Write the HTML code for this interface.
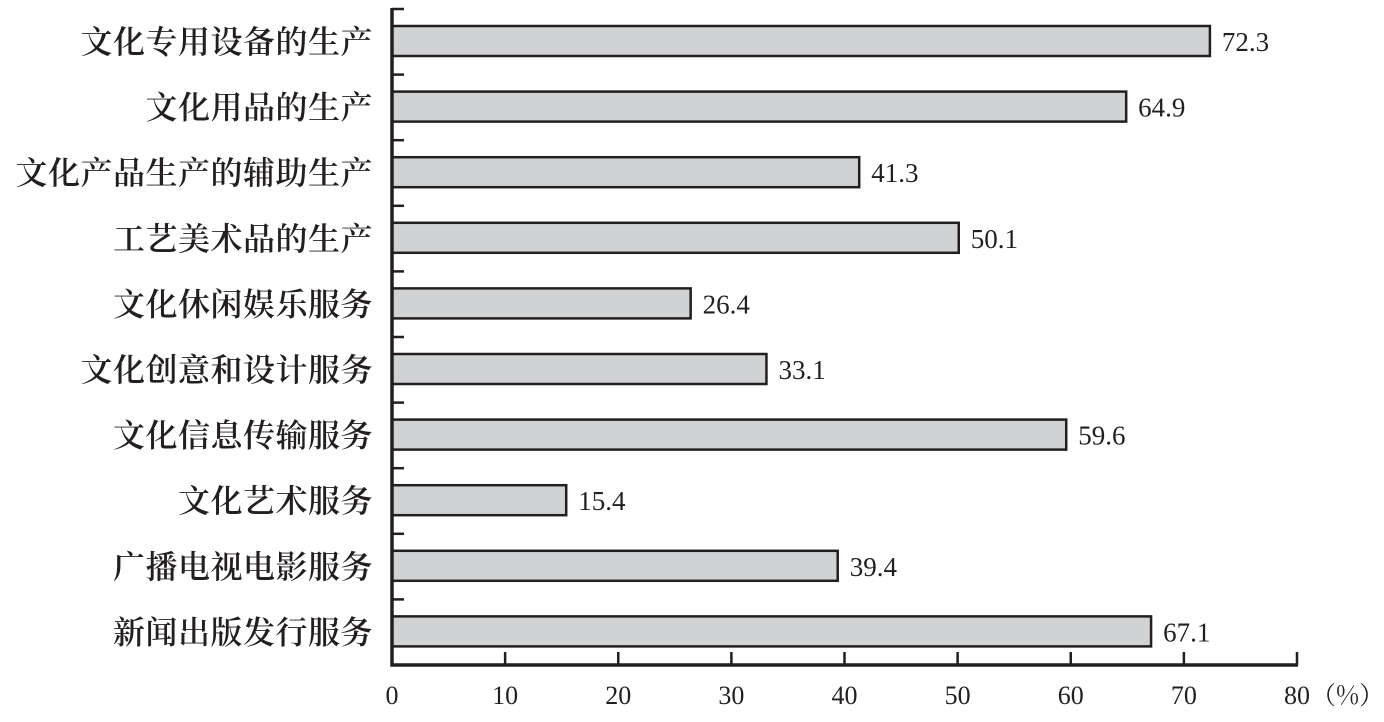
<!DOCTYPE html>
<html><head><meta charset="utf-8"><style>
body{margin:0;background:#fff}
svg text{font-family:"Liberation Serif","Noto Serif CJK SC",serif;fill:#231f20}
</style></head><body>
<svg id="c" width="1384" height="717" xmlns="http://www.w3.org/2000/svg"></svg>
<script>
const categories=["文化专用设备的生产","文化用品的生产","文化产品生产的辅助生产","工艺美术品的生产","文化休闲娱乐服务","文化创意和设计服务","文化信息传输服务","文化艺术服务","广播电视电影服务","新闻出版发行服务"];
const values=[72.3,64.9,41.3,50.1,26.4,33.1,59.6,15.4,39.4,67.1];
const xTicks=[0,10,20,30,40,50,60,70,80];
const NS="http://www.w3.org/2000/svg";
const svg=document.getElementById('c');
const X0=392,X1=1297,Y0=9,Y1=665,XMAX=80;
const band=(Y1-Y0)/categories.length;
function x(v){return X0+(v/XMAX)*(X1-X0);}
function y(i){return Y0+i*band;}
function mk(t,a,txt){const e=document.createElementNS(NS,t);for(const k in a)e.setAttribute(k,a[k]);if(txt!=null)e.textContent=txt;svg.appendChild(e);return e;}
categories.forEach((c,i)=>{
 const r=mk('rect',{x:X0,y:y(i)+17,width:x(values[i])-X0,height:30,fill:'#d1d2d4',stroke:'#231f20','stroke-width':2.5});
 
 
 const l=mk('text',{x:373,y:y(i)+44,'text-anchor':'end','font-size':32,'font-weight':600,'letter-spacing':0.5,style:'font-family:"Noto Serif CJK SC",serif'},c);
 
 
 const v=mk('text',{x:x(values[i])+12,y:y(i)+42,'font-size':27},values[i].toFixed(1));
 
 
});
for(let i=0;i<categories.length;i++){
 const t=mk('line',{x1:X0,x2:404,y1:y(i),y2:y(i),stroke:'#231f20','stroke-width':2.5});
 
 
}
const ya=mk('line',{x1:X0,x2:X0,y1:Y0-1,y2:Y1+1.5,stroke:'#231f20','stroke-width':3.5});


const xa=mk('line',{x1:X0-1.5,x2:X1+1,y1:Y1,y2:Y1,stroke:'#231f20','stroke-width':3.5});


xTicks.forEach(v=>{
 if(v>0){const t=mk('line',{x1:x(v),x2:x(v),y1:Y1,y2:Y1-13,stroke:'#231f20','stroke-width':2.5});
 
 }
 const l=mk('text',{x:x(v),y:704,'text-anchor':'middle','font-size':26},String(v));
 
 
});
const u=mk('text',{x:x(80)+14,y:704,'font-size':25,style:'font-family:"Noto Serif CJK SC",serif'},"（%）");


</script>
</body></html>
